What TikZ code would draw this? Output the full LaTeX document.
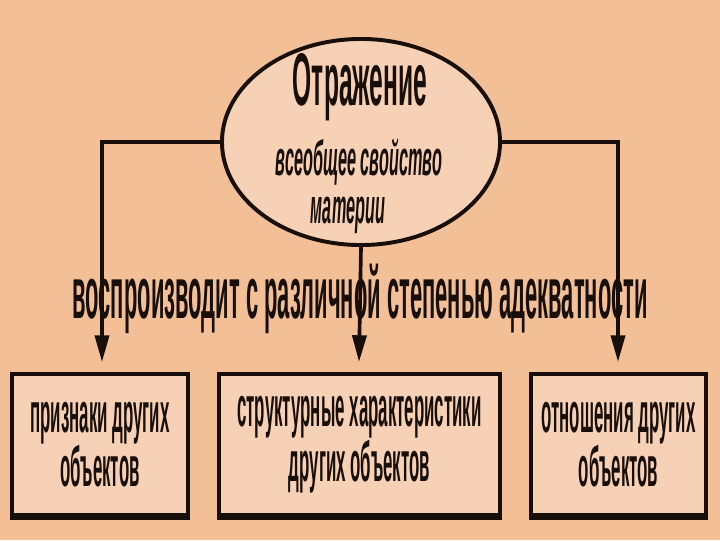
\documentclass[tikz,border=0pt]{standalone}
\usepackage{fontspec}
\newfontfamily\condfont{Liberation Sans}[FakeStretch=0.33]
\newfontfamily\narrowfont{Liberation Sans}[FakeStretch=0.30]
\usetikzlibrary{positioning, arrows.meta, shapes.geometric}
\definecolor{bgcolor}{RGB}{242, 191, 150}
\definecolor{boxcolor}{RGB}{247, 209, 181}
\definecolor{inkcolor}{RGB}{25, 15, 10}

\begin{document}
\begin{tikzpicture}[
    x=0.025cm, y=-0.025cm,
    oval/.style={ellipse, draw=inkcolor, fill=boxcolor, line width=2.8pt, minimum width=6.95cm, minimum height=5.15cm, inner sep=0pt},
    targetbox/.style={rectangle, draw=inkcolor, fill=boxcolor, line width=2.4pt, minimum height=3.525cm, inner sep=0pt, align=center, text=inkcolor, font=\narrowfont\bfseries\fontsize{40pt}{34pt}\selectfont},
    headtext/.style={anchor=base, inner sep=0pt, text=inkcolor, font=\condfont\bfseries\fontsize{53pt}{53pt}\selectfont},
    subtext/.style={anchor=base, inner sep=0pt, text=inkcolor, font=\condfont\bfseries\itshape\fontsize{35pt}{35pt}\selectfont},
    flowtext/.style={anchor=base, inner sep=0pt, text=inkcolor, font=\narrowfont\bfseries\fontsize{52pt}{52pt}\selectfont},
    arrow/.style={-{Triangle[length=19pt, width=10pt]}, draw=inkcolor, line width=2.6pt},
]

% --- Background and page size ---
\fill[bgcolor] (0,0) rectangle (720,540);
\useasboundingbox (0,0) rectangle (720,540);

% --- Arrow x-positions ---
\def\colI{102}
\def\colII{359}
\def\colIII{618}
\def\tipY{362}

% ======= CENTRAL ELLIPSE =======
\node[oval] (E) at (361,142) {};
\node[headtext] (E-title) at (360,105) {Отражение};
\node[subtext]  (E-sub1)  at (359,175) {всеобщее свойство};
\node[subtext]  (E-sub2)  at (348,223) {материи};

% ======= MIDDLE TEXT =======
\node[flowtext] (T) at (360,318) {воспроизводит с различной степенью адекватности};

% ======= TARGET BOXES =======
\node[targetbox, minimum width=4.4cm]   (B-1) at (100,444.5) {признаки других\\объектов};
\node[targetbox, minimum width=7.025cm] (B-2) at (359.5,444.5) {структурные характеристики\\других объектов};
\node[targetbox, minimum width=4.375cm] (B-3) at (618.5,444.5) {отношения других\\объектов};

% bottom shadow of the boxes
\foreach \b in {1,2,3} {
    \draw[inkcolor, line width=3.2pt] ([yshift=-1pt]B-\b.south west) -- ([yshift=-1pt]B-\b.south east);
}

% ======= CONNECTIONS =======
\coordinate (tip-1) at (\colI,\tipY);
\coordinate (tip-2) at (\colII,\tipY);
\coordinate (tip-3) at (\colIII,\tipY);

\draw[arrow] (E.west) -| (tip-1);
\draw[arrow] (E.south) -- (tip-2);
\draw[arrow] (E.east) -| (tip-3);

\end{tikzpicture}
\end{document}
